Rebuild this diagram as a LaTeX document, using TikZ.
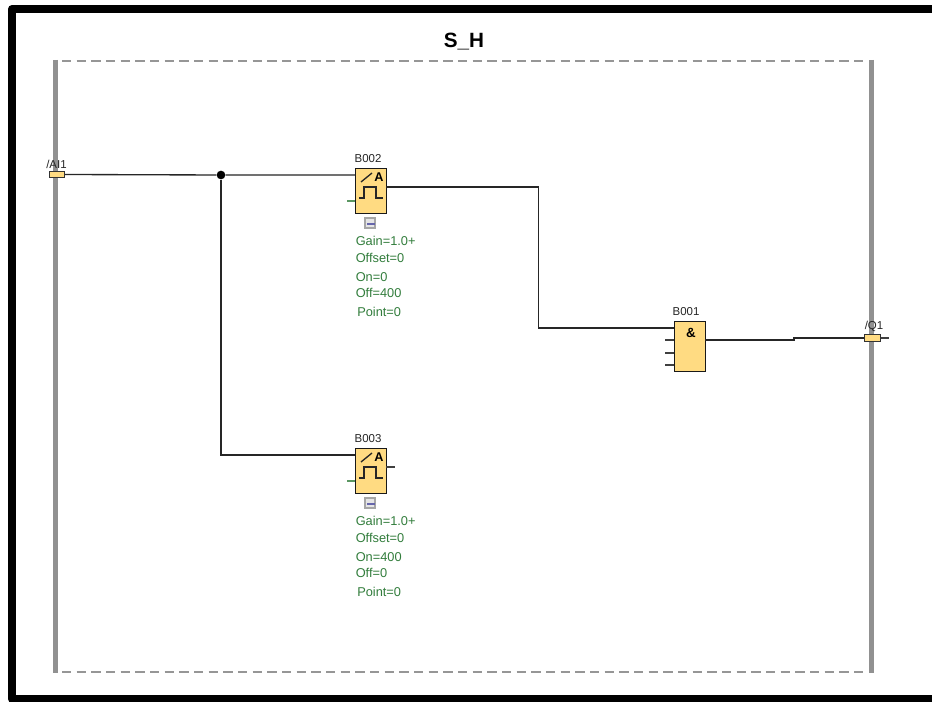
\documentclass[tikz,border=0pt]{standalone}
\usepackage{fontspec}
\setmainfont{Liberation Sans}
\definecolor{blockfill}{RGB}{255,219,130}
\definecolor{paramgreen}{RGB}{50,125,60}
\definecolor{barGray}{RGB}{145,145,145}
\definecolor{dashGray}{RGB}{150,150,150}
\tikzset{
  x=0.75pt,y=-0.75pt,
  block/.style={draw=black!90,line width=1.1pt,fill=blockfill,minimum width=23.25pt,inner sep=0pt,anchor=north west},
  port/.style={draw=black!80,line width=0.8pt,fill=blockfill,minimum width=11.5pt,minimum height=4.8pt,inner sep=0pt},
  wire/.style={draw=black!85,line width=1pt},
  stub/.style={draw=black!75,line width=0.8pt},
  greenstub/.style={draw=paramgreen!80!white,line width=0.9pt},
  blocklabel/.style={font=\fontsize{8.6}{9}\selectfont,text=black!85,inner sep=0pt},
  param/.style={font=\fontsize{9.6}{10}\selectfont,text=paramgreen,inner sep=0pt,anchor=west},
  sidebar/.style={draw=barGray,line width=3.6pt},
  dashline/.style={draw=dashGray,line width=1.2pt,dash pattern=on 7pt off 4pt},
  glyph/.style={draw=black!85,line width=1pt},
  iconbox/.style={draw=black!35,fill=black!10,line width=0.8pt,minimum width=7.5pt,minimum height=7.5pt,inner sep=0pt},
  iconbar/.style={draw=blue!45!black!60,line width=1pt}
}
\begin{document}
\begin{tikzpicture}
\useasboundingbox (0,0) rectangle (932,702);
\fill[white] (0,0) rectangle (932,702);
% outer black frame (open on the right)
\draw[black,line width=6pt,line join=round] (932,9) -- (12,9) -- (12,699) -- (932,699);
% title
\node[font=\bfseries\fontsize{15.5}{17}\selectfont,inner sep=0pt,anchor=base] (title) at (464,48) {S\_H};
% boundary
\coordinate (tl) at (55.5,60);
\coordinate (tr) at (871.5,60);
\coordinate (bl) at (55.5,672.5);
\coordinate (br) at (871.5,672.5);
\draw[dashline] (62,61) -- (866,61);
\draw[dashline] (62,672) -- (866,672);
\draw[sidebar] (tl) -- (bl);
\draw[sidebar] (tr) -- (br);
% ports
\node[port] (ai1) at (57,174.5) {};
\node[blocklabel] (ai1l) at (56.5,164) {/AI1};
\node[port] (q1) at (872.5,338) {};
\node[blocklabel] (q1l) at (874,326) {/Q1};
% blocks
\node[block,minimum height=33.75pt] (b2) at (355,168) {};
\node[block,minimum height=33.75pt] (b3) at (355,448) {};
\node[block,minimum height=37.5pt] (b1) at (674,321) {};
\node[blocklabel] (b2l) at (368,159) {B002};
\node[blocklabel] (b3l) at (368,439) {B003};
\node[blocklabel] (b1l) at (686,312) {B001};
\node[font=\bfseries\fontsize{10}{11}\selectfont,inner sep=0pt] (amp) at (691,333) {\&};
% analog trigger glyphs
\foreach \yo in {168,448}{
  \begin{scope}[shift={(0,\yo)}]
    \draw[glyph] (361,14) -- (372,5);
    \draw[glyph] (359,30) -- (364,30) -- (364,19) -- (376,19) -- (376,30) -- (383,30);
    \node[font=\bfseries\fontsize{9.5}{10}\selectfont,inner sep=0pt] at (379,9) {A};
  \end{scope}
}
% small icons
\node[iconbox] (ic2) at (370,223) {};
\node[iconbox] (ic3) at (370,503) {};
\draw[iconbar] (367,224) -- (375,224);
\draw[iconbar] (367,504) -- (375,504);
% junction
\node[circle,fill=black,inner sep=0pt,minimum size=6.5pt] (j) at (221,175) {};
% wires
\draw[wire] (ai1.east) -- (j) -- (355,175);
\draw[wire] (j) |- (355,455);
\draw[wire] (386,187) -- (538.5,187) -- (538.5,328) -- (674,328);
\draw[wire] (705,340) -- (794,340) -- (794,338) -- (q1.west);
\draw[stub] (q1.east) -- (889,338);
\draw[stub] (386,467) -- (395,467);
\foreach \yy in {340,353,365} \draw[stub] (665,\yy) -- (674,\yy);
\draw[greenstub] (347,201) -- (355,201);
\draw[greenstub] (347,481) -- (355,481);
% parameters
\node[param] (p1) at (355.5,241) {Gain=1.0+};
\node[param] (p2) at (355.5,258) {Offset=0};
\node[param] (p3) at (355.5,277) {On=0};
\node[param] (p4) at (355.5,293) {Off=400};
\node[param] (p5) at (357,312) {Point=0};
\node[param] (q1p) at (355.5,521) {Gain=1.0+};
\node[param] (q2p) at (355.5,538) {Offset=0};
\node[param] (q3p) at (355.5,557) {On=400};
\node[param] (q4p) at (355.5,573) {Off=0};
\node[param] (q5p) at (357,592) {Point=0};
\end{tikzpicture}
\end{document}
